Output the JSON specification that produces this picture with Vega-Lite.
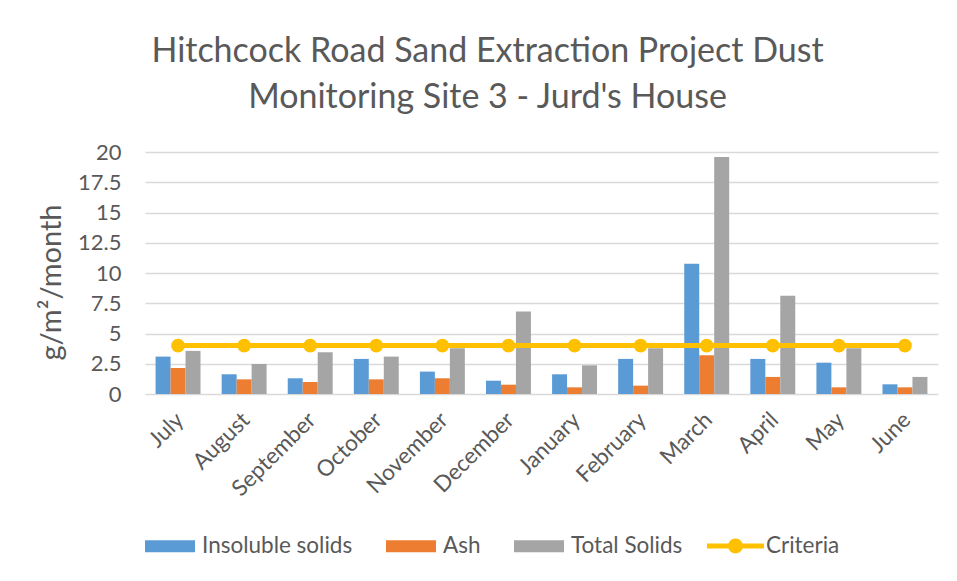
{
  "$schema": "https://vega.github.io/schema/vega-lite/v6.json",
  "width": 793,
  "height": 242,
  "autosize": {"type": "none"},
  "padding": {"left": 145, "top": 152, "right": 19, "bottom": 187},
  "background": "white",
  "title": {
    "text": ["Hitchcock Road Sand Extraction Project Dust", "Monitoring Site 3 - Jurd's House"],
    "anchor": "middle",
    "dx": -54,
    "offset": 26,
    "font": "Lato",
    "fontSize": 34,
    "fontWeight": "normal",
    "lineHeight": 46,
    "color": "#595959"
  },
  "config": {
    "view": {"stroke": null},
    "font": "Lato"
  },
  "data": {
    "values": [
      {"month": "July", "series": "Insoluble solids", "value": 3.09},
      {"month": "July", "series": "Ash", "value": 2.15},
      {"month": "July", "series": "Total Solids", "value": 3.56},
      {"month": "August", "series": "Insoluble solids", "value": 1.63},
      {"month": "August", "series": "Ash", "value": 1.21},
      {"month": "August", "series": "Total Solids", "value": 2.48},
      {"month": "September", "series": "Insoluble solids", "value": 1.3},
      {"month": "September", "series": "Ash", "value": 0.99},
      {"month": "September", "series": "Total Solids", "value": 3.45},
      {"month": "October", "series": "Insoluble solids", "value": 2.9},
      {"month": "October", "series": "Ash", "value": 1.21},
      {"month": "October", "series": "Total Solids", "value": 3.09},
      {"month": "November", "series": "Insoluble solids", "value": 1.85},
      {"month": "November", "series": "Ash", "value": 1.3},
      {"month": "November", "series": "Total Solids", "value": 3.78},
      {"month": "December", "series": "Insoluble solids", "value": 1.1},
      {"month": "December", "series": "Ash", "value": 0.77},
      {"month": "December", "series": "Total Solids", "value": 6.81},
      {"month": "January", "series": "Insoluble solids", "value": 1.63},
      {"month": "January", "series": "Ash", "value": 0.55},
      {"month": "January", "series": "Total Solids", "value": 2.37},
      {"month": "February", "series": "Insoluble solids", "value": 2.9},
      {"month": "February", "series": "Ash", "value": 0.69},
      {"month": "February", "series": "Total Solids", "value": 3.78},
      {"month": "March", "series": "Insoluble solids", "value": 10.76},
      {"month": "March", "series": "Ash", "value": 3.2},
      {"month": "March", "series": "Total Solids", "value": 19.58},
      {"month": "April", "series": "Insoluble solids", "value": 2.9},
      {"month": "April", "series": "Ash", "value": 1.41},
      {"month": "April", "series": "Total Solids", "value": 8.11},
      {"month": "May", "series": "Insoluble solids", "value": 2.59},
      {"month": "May", "series": "Ash", "value": 0.55},
      {"month": "May", "series": "Total Solids", "value": 3.78},
      {"month": "June", "series": "Insoluble solids", "value": 0.8},
      {"month": "June", "series": "Ash", "value": 0.55},
      {"month": "June", "series": "Total Solids", "value": 1.41},
      {"month": "July", "series": "Criteria", "value": 4},
      {"month": "August", "series": "Criteria", "value": 4},
      {"month": "September", "series": "Criteria", "value": 4},
      {"month": "October", "series": "Criteria", "value": 4},
      {"month": "November", "series": "Criteria", "value": 4},
      {"month": "December", "series": "Criteria", "value": 4},
      {"month": "January", "series": "Criteria", "value": 4},
      {"month": "February", "series": "Criteria", "value": 4},
      {"month": "March", "series": "Criteria", "value": 4},
      {"month": "April", "series": "Criteria", "value": 4},
      {"month": "May", "series": "Criteria", "value": 4},
      {"month": "June", "series": "Criteria", "value": 4}
    ]
  },
  "encoding": {
    "x": {
      "field": "month",
      "type": "nominal",
      "sort": ["July", "August", "September", "October", "November", "December", "January", "February", "March", "April", "May", "June"],
      "scale": {"paddingInner": 0.32, "paddingOuter": 0.16},
      "axis": {
        "title": null,
        "labelAngle": -45,
        "labelAlign": "right",
        "labelBaseline": "middle",
        "labelPadding": 22,
        "labelOffset": 2,
        "labelFont": "Lato",
        "labelFontSize": 22.5,
        "labelColor": "#595959",
        "ticks": false,
        "domain": false,
        "grid": false
      }
    },
    "y": {
      "field": "value",
      "type": "quantitative",
      "scale": {"domain": [0, 20], "nice": false},
      "axis": {
        "title": "g/m²/month",
        "titleFont": "Lato",
        "titleFontSize": 29,
        "titleFontWeight": "normal",
        "titleColor": "#595959",
        "titlePadding": 11,
        "titleY": 130,
        "values": [0, 2.5, 5, 7.5, 10, 12.5, 15, 17.5, 20],
        "labelExpr": "'' + datum.value",
        "labelFont": "Lato",
        "labelFontSize": 22,
        "labelColor": "#595959",
        "labelPadding": 24,
        "ticks": false,
        "domain": false,
        "grid": true,
        "gridColor": "#d9d9d9",
        "gridWidth": 1.5
      }
    }
  },
  "layer": [
    {
      "transform": [{"filter": "datum.series !== 'Criteria'"}],
      "mark": {"type": "bar"},
      "encoding": {
        "xOffset": {
          "field": "series",
          "type": "nominal",
          "sort": ["Insoluble solids", "Ash", "Total Solids"],
          "scale": {"paddingInner": 0, "paddingOuter": 0}
        },
        "fill": {
          "field": "series",
          "type": "nominal",
          "scale": {
            "domain": ["Insoluble solids", "Ash", "Total Solids"],
            "range": ["#5B9BD5", "#ED7D31", "#A5A5A5"]
          },
          "legend": {
            "title": null,
            "orient": "none",
            "direction": "horizontal",
            "legendX": 0,
            "legendY": 369,
            "symbolType": "M-1,-0.24H1V0.24H-1Z",
            "symbolSize": 2500,
            "symbolStrokeWidth": 0,
            "labelFont": "Lato",
            "labelFontSize": 22.5,
            "labelColor": "#595959",
            "labelOffset": 7,
            "columnPadding": 33
          }
        }
      }
    },
    {
      "transform": [{"filter": "datum.series === 'Criteria'"}],
      "mark": {"type": "line", "strokeWidth": 5},
      "encoding": {
        "stroke": {
          "field": "series",
          "type": "nominal",
          "scale": {"domain": ["Criteria"], "range": ["#FFC000"]},
          "legend": {
            "title": null,
            "orient": "none",
            "direction": "horizontal",
            "legendX": 562,
            "legendY": 365.5,
            "symbolType": "M-1,-0.088H1V0.088H-1Z M-0.26,0A0.26,0.26 0 1,1 0.26,0A0.26,0.26 0 1,1 -0.26,0Z",
            "symbolSize": 3249,
            "symbolStrokeWidth": 0,
            "symbolFillColor": "#FFC000",
            "labelFont": "Lato",
            "labelFontSize": 22.5,
            "labelColor": "#595959",
            "labelOffset": 2
          }
        }
      }
    },
    {
      "transform": [{"filter": "datum.series === 'Criteria'"}],
      "mark": {"type": "point", "filled": true, "size": 190, "color": "#FFC000", "opacity": 1},
      "encoding": {}
    }
  ]
}
